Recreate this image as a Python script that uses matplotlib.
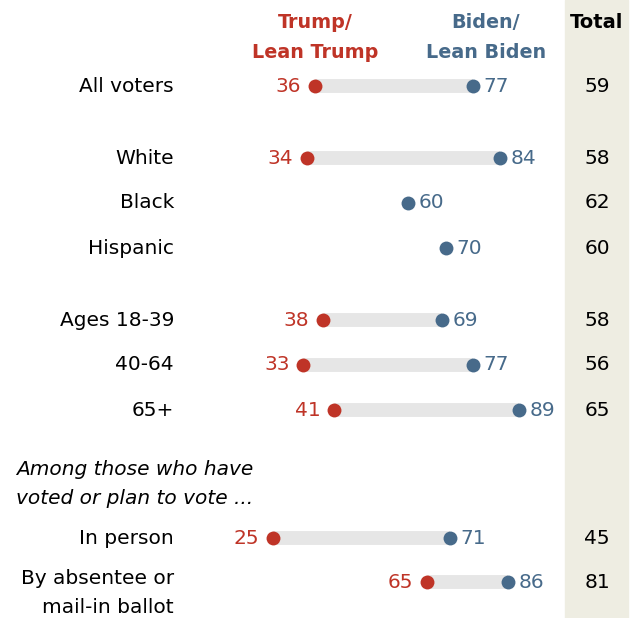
import matplotlib.pyplot as plt

plt.rcParams['font.family'] = ['Liberation Sans Narrow', 'DejaVu Sans']

groups = ['All voters', 'White', 'Black', 'Hispanic', 'Ages 18-39', '40-64', '65+',
          'In person', 'By absentee or\nmail-in ballot']
trump = [36, 34, None, None, 38, 33, 41, 25, 65]
biden = [77, 84, 60, 70, 69, 77, 89, 71, 86]
total = [59, 58, 62, 60, 58, 56, 65, 45, 81]

red = '#BF3427'
blue = '#476A8A'

# row centres in pixels from the top
rows = [86, 158, 203, 248, 320, 365, 410, 538, 582]
label_rows = [86, 158, 203, 248, 320, 365, 410, 538, 593]

fig = plt.figure(figsize=(6.31, 6.18), dpi=100)
ax = fig.add_axes([0, 0, 1, 1])
px = 3.854  # pixels per percentage point
x0 = 176.3  # pixel position of 0
ax.set_xlim(-x0 / px, (631 - x0) / px)
ax.set_ylim(618, 0)
ax.axis('off')

# shaded total column
ax.axvspan((565 - x0) / px, (628 - x0) / px, color='#EEEDE2', zorder=0)

fs = 14.5
for g, t, b, tot, y, ly in zip(groups, trump, biden, total, rows, label_rows):
    ax.text((174 - x0) / px, ly, g, ha='right', va='center', fontsize=fs,
            linespacing=1.62)
    if t is not None:
        ax.plot([t, b], [y, y], color='#E6E6E6', lw=10, solid_capstyle='butt', zorder=1)
        ax.plot(t, y, 'o', color=red, ms=10, mec='none', zorder=2)
        ax.text(t - 3.6, y, str(t), color=red, ha='right', va='center', fontsize=fs)
    ax.plot(b, y, 'o', color=blue, ms=10, mec='none', zorder=2)
    ax.text(b + 2.8, y, str(b), color=blue, ha='left', va='center', fontsize=fs)
    ax.text((597 - x0) / px, y, str(tot), ha='center', va='center', fontsize=fs)

ax.text((16 - x0) / px, 484, 'Among those who have\nvoted or plan to vote ...', ha='left',
        va='center', fontsize=fs, style='italic', linespacing=1.62)

ax.text(36, 37.5, 'Trump/\nLean Trump', color=red, ha='center', va='center',
        fontsize=13.8, fontweight='bold', linespacing=1.75)
ax.text((486 - x0) / px, 37.5, 'Biden/\nLean Biden', color=blue, ha='center', va='center',
        fontsize=13.8, fontweight='bold', linespacing=1.75)
ax.text((597 - x0) / px, 23, 'Total', ha='center', va='center', fontsize=14,
        fontweight='bold')

fig.savefig('out.png', dpi=100)
